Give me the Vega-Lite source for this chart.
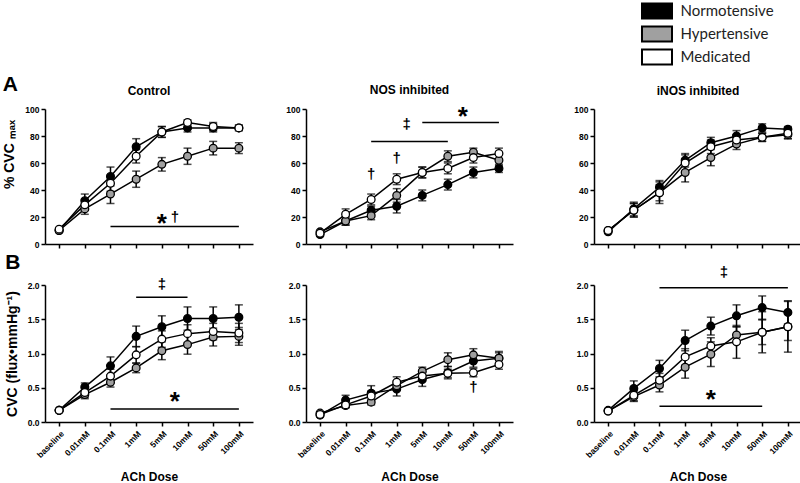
{
"$schema":"https://vega.github.io/schema/vega-lite/v6.json",
"padding":{"left":2,"top":2,"right":0,"bottom":0},
"background":"white",
"title":{"text":"A","anchor":"start","frame":"bounds","fontSize":21,"offset":-92},
"datasets":{
"means":[
{"c":"Control","m":"pct","g":"Normotensive","d":"baseline","v":10,"e":1},
{"c":"Control","m":"pct","g":"Normotensive","d":"0.01mM","v":32,"e":5},
{"c":"Control","m":"pct","g":"Normotensive","d":"0.1mM","v":50,"e":7},
{"c":"Control","m":"pct","g":"Normotensive","d":"1mM","v":72,"e":6},
{"c":"Control","m":"pct","g":"Normotensive","d":"5mM","v":83,"e":4},
{"c":"Control","m":"pct","g":"Normotensive","d":"10mM","v":86,"e":3},
{"c":"Control","m":"pct","g":"Normotensive","d":"50mM","v":86,"e":3},
{"c":"Control","m":"pct","g":"Normotensive","d":"100mM","v":86,"e":2},
{"c":"Control","m":"pct","g":"Hypertensive","d":"baseline","v":10,"e":1},
{"c":"Control","m":"pct","g":"Hypertensive","d":"0.01mM","v":26,"e":4},
{"c":"Control","m":"pct","g":"Hypertensive","d":"0.1mM","v":37,"e":7},
{"c":"Control","m":"pct","g":"Hypertensive","d":"1mM","v":48,"e":6},
{"c":"Control","m":"pct","g":"Hypertensive","d":"5mM","v":59,"e":5},
{"c":"Control","m":"pct","g":"Hypertensive","d":"10mM","v":65,"e":6},
{"c":"Control","m":"pct","g":"Hypertensive","d":"50mM","v":71,"e":5},
{"c":"Control","m":"pct","g":"Hypertensive","d":"100mM","v":71,"e":4},
{"c":"Control","m":"pct","g":"Medicated","d":"baseline","v":11,"e":1},
{"c":"Control","m":"pct","g":"Medicated","d":"0.01mM","v":29,"e":4},
{"c":"Control","m":"pct","g":"Medicated","d":"0.1mM","v":45,"e":6},
{"c":"Control","m":"pct","g":"Medicated","d":"1mM","v":65,"e":5},
{"c":"Control","m":"pct","g":"Medicated","d":"5mM","v":83,"e":4},
{"c":"Control","m":"pct","g":"Medicated","d":"10mM","v":90,"e":2},
{"c":"Control","m":"pct","g":"Medicated","d":"50mM","v":87,"e":3},
{"c":"Control","m":"pct","g":"Medicated","d":"100mM","v":86,"e":2},
{"c":"NOS inhibited","m":"pct","g":"Normotensive","d":"baseline","v":7,"e":1},
{"c":"NOS inhibited","m":"pct","g":"Normotensive","d":"0.01mM","v":17,"e":3},
{"c":"NOS inhibited","m":"pct","g":"Normotensive","d":"0.1mM","v":25,"e":3},
{"c":"NOS inhibited","m":"pct","g":"Normotensive","d":"1mM","v":28,"e":5},
{"c":"NOS inhibited","m":"pct","g":"Normotensive","d":"5mM","v":36,"e":4},
{"c":"NOS inhibited","m":"pct","g":"Normotensive","d":"10mM","v":44,"e":4},
{"c":"NOS inhibited","m":"pct","g":"Normotensive","d":"50mM","v":53,"e":4},
{"c":"NOS inhibited","m":"pct","g":"Normotensive","d":"100mM","v":56,"e":3},
{"c":"NOS inhibited","m":"pct","g":"Hypertensive","d":"baseline","v":9,"e":1},
{"c":"NOS inhibited","m":"pct","g":"Hypertensive","d":"0.01mM","v":17,"e":3},
{"c":"NOS inhibited","m":"pct","g":"Hypertensive","d":"0.1mM","v":21,"e":3},
{"c":"NOS inhibited","m":"pct","g":"Hypertensive","d":"1mM","v":36,"e":5},
{"c":"NOS inhibited","m":"pct","g":"Hypertensive","d":"5mM","v":53,"e":4},
{"c":"NOS inhibited","m":"pct","g":"Hypertensive","d":"10mM","v":65,"e":4},
{"c":"NOS inhibited","m":"pct","g":"Hypertensive","d":"50mM","v":68,"e":3},
{"c":"NOS inhibited","m":"pct","g":"Hypertensive","d":"100mM","v":62,"e":4},
{"c":"NOS inhibited","m":"pct","g":"Medicated","d":"baseline","v":8,"e":1},
{"c":"NOS inhibited","m":"pct","g":"Medicated","d":"0.01mM","v":22,"e":4},
{"c":"NOS inhibited","m":"pct","g":"Medicated","d":"0.1mM","v":33,"e":4},
{"c":"NOS inhibited","m":"pct","g":"Medicated","d":"1mM","v":48,"e":4},
{"c":"NOS inhibited","m":"pct","g":"Medicated","d":"5mM","v":53,"e":4},
{"c":"NOS inhibited","m":"pct","g":"Medicated","d":"10mM","v":56,"e":4},
{"c":"NOS inhibited","m":"pct","g":"Medicated","d":"50mM","v":64,"e":4},
{"c":"NOS inhibited","m":"pct","g":"Medicated","d":"100mM","v":67,"e":4},
{"c":"iNOS inhibited","m":"pct","g":"Normotensive","d":"baseline","v":9,"e":1},
{"c":"iNOS inhibited","m":"pct","g":"Normotensive","d":"0.01mM","v":26,"e":5},
{"c":"iNOS inhibited","m":"pct","g":"Normotensive","d":"0.1mM","v":42,"e":5},
{"c":"iNOS inhibited","m":"pct","g":"Normotensive","d":"1mM","v":62,"e":5},
{"c":"iNOS inhibited","m":"pct","g":"Normotensive","d":"5mM","v":75,"e":4},
{"c":"iNOS inhibited","m":"pct","g":"Normotensive","d":"10mM","v":80,"e":4},
{"c":"iNOS inhibited","m":"pct","g":"Normotensive","d":"50mM","v":86,"e":3},
{"c":"iNOS inhibited","m":"pct","g":"Normotensive","d":"100mM","v":85,"e":2},
{"c":"iNOS inhibited","m":"pct","g":"Hypertensive","d":"baseline","v":10,"e":1},
{"c":"iNOS inhibited","m":"pct","g":"Hypertensive","d":"0.01mM","v":25,"e":5},
{"c":"iNOS inhibited","m":"pct","g":"Hypertensive","d":"0.1mM","v":38,"e":6},
{"c":"iNOS inhibited","m":"pct","g":"Hypertensive","d":"1mM","v":53,"e":7},
{"c":"iNOS inhibited","m":"pct","g":"Hypertensive","d":"5mM","v":64,"e":6},
{"c":"iNOS inhibited","m":"pct","g":"Hypertensive","d":"10mM","v":74,"e":4},
{"c":"iNOS inhibited","m":"pct","g":"Hypertensive","d":"50mM","v":79,"e":3},
{"c":"iNOS inhibited","m":"pct","g":"Hypertensive","d":"100mM","v":81,"e":3},
{"c":"iNOS inhibited","m":"pct","g":"Medicated","d":"baseline","v":10,"e":1},
{"c":"iNOS inhibited","m":"pct","g":"Medicated","d":"0.01mM","v":25,"e":5},
{"c":"iNOS inhibited","m":"pct","g":"Medicated","d":"0.1mM","v":38,"e":8},
{"c":"iNOS inhibited","m":"pct","g":"Medicated","d":"1mM","v":60,"e":6},
{"c":"iNOS inhibited","m":"pct","g":"Medicated","d":"5mM","v":72,"e":5},
{"c":"iNOS inhibited","m":"pct","g":"Medicated","d":"10mM","v":77,"e":4},
{"c":"iNOS inhibited","m":"pct","g":"Medicated","d":"50mM","v":79,"e":3},
{"c":"iNOS inhibited","m":"pct","g":"Medicated","d":"100mM","v":82,"e":4},
{"c":"Control","m":"cvc","g":"Normotensive","d":"baseline","v":0.17,"e":0.02},
{"c":"Control","m":"cvc","g":"Normotensive","d":"0.01mM","v":0.51,"e":0.06},
{"c":"Control","m":"cvc","g":"Normotensive","d":"0.1mM","v":0.82,"e":0.13},
{"c":"Control","m":"cvc","g":"Normotensive","d":"1mM","v":1.25,"e":0.15},
{"c":"Control","m":"cvc","g":"Normotensive","d":"5mM","v":1.39,"e":0.16},
{"c":"Control","m":"cvc","g":"Normotensive","d":"10mM","v":1.51,"e":0.17},
{"c":"Control","m":"cvc","g":"Normotensive","d":"50mM","v":1.51,"e":0.17},
{"c":"Control","m":"cvc","g":"Normotensive","d":"100mM","v":1.53,"e":0.18},
{"c":"Control","m":"cvc","g":"Hypertensive","d":"baseline","v":0.17,"e":0.02},
{"c":"Control","m":"cvc","g":"Hypertensive","d":"0.01mM","v":0.40,"e":0.06},
{"c":"Control","m":"cvc","g":"Hypertensive","d":"0.1mM","v":0.58,"e":0.07},
{"c":"Control","m":"cvc","g":"Hypertensive","d":"1mM","v":0.79,"e":0.07},
{"c":"Control","m":"cvc","g":"Hypertensive","d":"5mM","v":1.04,"e":0.13},
{"c":"Control","m":"cvc","g":"Hypertensive","d":"10mM","v":1.13,"e":0.14},
{"c":"Control","m":"cvc","g":"Hypertensive","d":"50mM","v":1.24,"e":0.13},
{"c":"Control","m":"cvc","g":"Hypertensive","d":"100mM","v":1.25,"e":0.13},
{"c":"Control","m":"cvc","g":"Medicated","d":"baseline","v":0.17,"e":0.02},
{"c":"Control","m":"cvc","g":"Medicated","d":"0.01mM","v":0.43,"e":0.07},
{"c":"Control","m":"cvc","g":"Medicated","d":"0.1mM","v":0.67,"e":0.10},
{"c":"Control","m":"cvc","g":"Medicated","d":"1mM","v":0.98,"e":0.12},
{"c":"Control","m":"cvc","g":"Medicated","d":"5mM","v":1.21,"e":0.12},
{"c":"Control","m":"cvc","g":"Medicated","d":"10mM","v":1.29,"e":0.13},
{"c":"Control","m":"cvc","g":"Medicated","d":"50mM","v":1.32,"e":0.12},
{"c":"Control","m":"cvc","g":"Medicated","d":"100mM","v":1.30,"e":0.14},
{"c":"NOS inhibited","m":"cvc","g":"Normotensive","d":"baseline","v":0.10,"e":0.02},
{"c":"NOS inhibited","m":"cvc","g":"Normotensive","d":"0.01mM","v":0.32,"e":0.07},
{"c":"NOS inhibited","m":"cvc","g":"Normotensive","d":"0.1mM","v":0.42,"e":0.11},
{"c":"NOS inhibited","m":"cvc","g":"Normotensive","d":"1mM","v":0.48,"e":0.10},
{"c":"NOS inhibited","m":"cvc","g":"Normotensive","d":"5mM","v":0.62,"e":0.10},
{"c":"NOS inhibited","m":"cvc","g":"Normotensive","d":"10mM","v":0.72,"e":0.09},
{"c":"NOS inhibited","m":"cvc","g":"Normotensive","d":"50mM","v":0.89,"e":0.09},
{"c":"NOS inhibited","m":"cvc","g":"Normotensive","d":"100mM","v":0.93,"e":0.10},
{"c":"NOS inhibited","m":"cvc","g":"Hypertensive","d":"baseline","v":0.13,"e":0.02},
{"c":"NOS inhibited","m":"cvc","g":"Hypertensive","d":"0.01mM","v":0.24,"e":0.03},
{"c":"NOS inhibited","m":"cvc","g":"Hypertensive","d":"0.1mM","v":0.29,"e":0.04},
{"c":"NOS inhibited","m":"cvc","g":"Hypertensive","d":"1mM","v":0.53,"e":0.07},
{"c":"NOS inhibited","m":"cvc","g":"Hypertensive","d":"5mM","v":0.74,"e":0.06},
{"c":"NOS inhibited","m":"cvc","g":"Hypertensive","d":"10mM","v":0.91,"e":0.10},
{"c":"NOS inhibited","m":"cvc","g":"Hypertensive","d":"50mM","v":0.98,"e":0.09},
{"c":"NOS inhibited","m":"cvc","g":"Hypertensive","d":"100mM","v":0.93,"e":0.08},
{"c":"NOS inhibited","m":"cvc","g":"Medicated","d":"baseline","v":0.11,"e":0.02},
{"c":"NOS inhibited","m":"cvc","g":"Medicated","d":"0.01mM","v":0.25,"e":0.04},
{"c":"NOS inhibited","m":"cvc","g":"Medicated","d":"0.1mM","v":0.38,"e":0.07},
{"c":"NOS inhibited","m":"cvc","g":"Medicated","d":"1mM","v":0.58,"e":0.08},
{"c":"NOS inhibited","m":"cvc","g":"Medicated","d":"5mM","v":0.67,"e":0.07},
{"c":"NOS inhibited","m":"cvc","g":"Medicated","d":"10mM","v":0.71,"e":0.06},
{"c":"NOS inhibited","m":"cvc","g":"Medicated","d":"50mM","v":0.72,"e":0.06},
{"c":"NOS inhibited","m":"cvc","g":"Medicated","d":"100mM","v":0.84,"e":0.07},
{"c":"iNOS inhibited","m":"cvc","g":"Normotensive","d":"baseline","v":0.17,"e":0.02},
{"c":"iNOS inhibited","m":"cvc","g":"Normotensive","d":"0.01mM","v":0.49,"e":0.11},
{"c":"iNOS inhibited","m":"cvc","g":"Normotensive","d":"0.1mM","v":0.78,"e":0.12},
{"c":"iNOS inhibited","m":"cvc","g":"Normotensive","d":"1mM","v":1.19,"e":0.15},
{"c":"iNOS inhibited","m":"cvc","g":"Normotensive","d":"5mM","v":1.40,"e":0.13},
{"c":"iNOS inhibited","m":"cvc","g":"Normotensive","d":"10mM","v":1.55,"e":0.16},
{"c":"iNOS inhibited","m":"cvc","g":"Normotensive","d":"50mM","v":1.67,"e":0.17},
{"c":"iNOS inhibited","m":"cvc","g":"Normotensive","d":"100mM","v":1.60,"e":0.17},
{"c":"iNOS inhibited","m":"cvc","g":"Hypertensive","d":"baseline","v":0.16,"e":0.02},
{"c":"iNOS inhibited","m":"cvc","g":"Hypertensive","d":"0.01mM","v":0.37,"e":0.07},
{"c":"iNOS inhibited","m":"cvc","g":"Hypertensive","d":"0.1mM","v":0.54,"e":0.10},
{"c":"iNOS inhibited","m":"cvc","g":"Hypertensive","d":"1mM","v":0.80,"e":0.16},
{"c":"iNOS inhibited","m":"cvc","g":"Hypertensive","d":"5mM","v":0.99,"e":0.18},
{"c":"iNOS inhibited","m":"cvc","g":"Hypertensive","d":"10mM","v":1.27,"e":0.12},
{"c":"iNOS inhibited","m":"cvc","g":"Hypertensive","d":"50mM","v":1.31,"e":0.30},
{"c":"iNOS inhibited","m":"cvc","g":"Hypertensive","d":"100mM","v":1.39,"e":0.37},
{"c":"iNOS inhibited","m":"cvc","g":"Medicated","d":"baseline","v":0.16,"e":0.02},
{"c":"iNOS inhibited","m":"cvc","g":"Medicated","d":"0.01mM","v":0.39,"e":0.08},
{"c":"iNOS inhibited","m":"cvc","g":"Medicated","d":"0.1mM","v":0.61,"e":0.10},
{"c":"iNOS inhibited","m":"cvc","g":"Medicated","d":"1mM","v":0.95,"e":0.12},
{"c":"iNOS inhibited","m":"cvc","g":"Medicated","d":"5mM","v":1.11,"e":0.12},
{"c":"iNOS inhibited","m":"cvc","g":"Medicated","d":"10mM","v":1.17,"e":0.24},
{"c":"iNOS inhibited","m":"cvc","g":"Medicated","d":"50mM","v":1.31,"e":0.18},
{"c":"iNOS inhibited","m":"cvc","g":"Medicated","d":"100mM","v":1.39,"e":0.20}
],
"bars":[
{"c":"Control","m":"pct","from":"0.1mM","to":"100mM","v":13},
{"c":"NOS inhibited","m":"pct","from":"0.1mM","to":"10mM","v":76},
{"c":"NOS inhibited","m":"pct","from":"5mM","to":"100mM","v":90},
{"c":"Control","m":"cvc","from":"1mM","to":"10mM","v":1.82},
{"c":"Control","m":"cvc","from":"0.1mM","to":"100mM","v":0.19},
{"c":"iNOS inhibited","m":"cvc","from":"0.1mM","to":"100mM","v":1.96},
{"c":"iNOS inhibited","m":"cvc","from":"0.1mM","to":"50mM","v":0.23}
],
"signs":[
{"c":"Control","m":"pct","d":"5mM","v":20,"s":"*"},
{"c":"Control","m":"pct","d":"5mM","d2":"10mM","v":20,"s":"†"},
{"c":"NOS inhibited","m":"pct","d":"0.1mM","v":51.5,"s":"†"},
{"c":"NOS inhibited","m":"pct","d":"1mM","v":63.5,"s":"†"},
{"c":"NOS inhibited","m":"pct","d":"1mM","d2":"5mM","v":89,"s":"‡"},
{"c":"NOS inhibited","m":"pct","d":"10mM","d2":"50mM","v":99,"s":"*"},
{"c":"Control","m":"cvc","d":"5mM","v":2.02,"s":"‡"},
{"c":"Control","m":"cvc","d":"5mM","d2":"10mM","v":0.39,"s":"*"},
{"c":"NOS inhibited","m":"cvc","d":"50mM","v":0.51,"s":"†"},
{"c":"iNOS inhibited","m":"cvc","d":"5mM","v":0.42,"s":"*"},
{"c":"iNOS inhibited","m":"cvc","d":"5mM","d2":"10mM","v":2.19,"s":"‡"}
]
},
"hconcat":[
{"hconcat":[
{"vconcat":[
{"width":208,"height":135,"title":"Control",
"encoding":{
"x":{"field":"d","type":"ordinal","scale":{"type":"point","domain":["baseline","0.01mM","0.1mM","1mM","5mM","10mM","50mM","100mM"],"padding":0.55},"axis":{"labels":false,"title":null}},
"y":{"field":"v","type":"quantitative","scale":{"domain":[0,100],"nice":false},"axis":{"values":[0,20,40,60,80,100],"title":"% CVC ₘₐₓ","titleY":45}}},
"layer":[
{"data":{"name":"means"},"transform":[{"filter":"datum.c=='Control' && datum.m=='pct'"}],"mark":{"type":"errorbar","ticks":{"size":8,"thickness":1.5},"rule":{"strokeWidth":1.5},"color":"#000"},"encoding":{"yError":{"field":"e"}}},
{"data":{"name":"means"},"transform":[{"filter":"datum.c=='Control' && datum.m=='pct'"}],"mark":{"type":"line","color":"#000","strokeWidth":1.5},"encoding":{"detail":{"field":"g"}}},
{"data":{"name":"means"},"transform":[{"filter":"datum.c=='Control' && datum.m=='pct'"}],"mark":{"type":"circle","size":60,"stroke":"#000","strokeWidth":1.3,"opacity":1},"encoding":{"fill":{"field":"g","type":"nominal","title":null,"scale":{"domain":["Normotensive","Hypertensive","Medicated"],"range":["#000000","#a0a0a0","#ffffff"]},"legend":{"orient":"none","legendX":603.5,"legendY":-106.5}}}},
{"data":{"name":"bars"},"transform":[{"filter":"datum.c=='Control' && datum.m=='pct'"}],"mark":{"type":"rule","strokeWidth":1.5,"color":"#000"},"encoding":{"x":{"field":"from","type":"ordinal","scale":{"type":"point","domain":["baseline","0.01mM","0.1mM","1mM","5mM","10mM","50mM","100mM"],"padding":0.55},"axis":{"labels":false,"title":null}},"x2":{"field":"to"}}},
{"data":{"name":"signs"},"transform":[{"filter":"datum.c=='Control' && datum.m=='pct' && datum.s=='*' && !datum.d2"}],"mark":{"type":"text","fontSize":26,"fontWeight":"bold","baseline":"middle","dy":7,"fill":"#000"},"encoding":{"text":{"field":"s"}}},
{"data":{"name":"signs"},"transform":[{"filter":"datum.c=='Control' && datum.m=='pct' && datum.s!='*' && datum.d2"}],"mark":{"type":"text","fontSize":15,"fontWeight":"bold","baseline":"middle","dx":13,"fill":"#000"},"encoding":{"text":{"field":"s"}}}
]},
{"width":208,"height":137,"title":{"text":"B","anchor":"start","frame":"bounds","fontSize":21,"offset":4},
"encoding":{
"x":{"field":"d","type":"ordinal","scale":{"type":"point","domain":["baseline","0.01mM","0.1mM","1mM","5mM","10mM","50mM","100mM"],"padding":0.55},"axis":{"labelAngle":-45,"title":"ACh Dose"}},
"y":{"field":"v","type":"quantitative","scale":{"domain":[0,2],"nice":false},"axis":{"values":[0,0.5,1,1.5,2],"format":".1f","title":"CVC (flux•mmHg⁻¹)"}}},
"layer":[
{"data":{"name":"means"},"transform":[{"filter":"datum.c=='Control' && datum.m=='cvc'"}],"mark":{"type":"errorbar","ticks":{"size":8,"thickness":1.5},"rule":{"strokeWidth":1.5},"color":"#000"},"encoding":{"yError":{"field":"e"}}},
{"data":{"name":"means"},"transform":[{"filter":"datum.c=='Control' && datum.m=='cvc'"}],"mark":{"type":"line","color":"#000","strokeWidth":1.5},"encoding":{"detail":{"field":"g"}}},
{"data":{"name":"means"},"transform":[{"filter":"datum.c=='Control' && datum.m=='cvc'"}],"mark":{"type":"circle","size":60,"stroke":"#000","strokeWidth":1.3,"opacity":1},"encoding":{"fill":{"field":"g","type":"nominal","title":null,"scale":{"domain":["Normotensive","Hypertensive","Medicated"],"range":["#000000","#a0a0a0","#ffffff"]},"legend":{"orient":"none","legendX":603.5,"legendY":-106.5}}}},
{"data":{"name":"bars"},"transform":[{"filter":"datum.c=='Control' && datum.m=='cvc'"}],"mark":{"type":"rule","strokeWidth":1.5,"color":"#000"},"encoding":{"x":{"field":"from","type":"ordinal","scale":{"type":"point","domain":["baseline","0.01mM","0.1mM","1mM","5mM","10mM","50mM","100mM"],"padding":0.55},"axis":{"labelAngle":-45,"title":"ACh Dose"}},"x2":{"field":"to"}}},
{"data":{"name":"signs"},"transform":[{"filter":"datum.c=='Control' && datum.m=='cvc' && datum.s!='*' && !datum.d2"}],"mark":{"type":"text","fontSize":15,"fontWeight":"bold","baseline":"middle","fill":"#000"},"encoding":{"text":{"field":"s"}}},
{"data":{"name":"signs"},"transform":[{"filter":"datum.c=='Control' && datum.m=='cvc' && datum.s=='*' && datum.d2"}],"mark":{"type":"text","fontSize":26,"fontWeight":"bold","baseline":"middle","dy":7,"dx":13,"fill":"#000"},"encoding":{"text":{"field":"s"}}}
]}
],"spacing":41,"bounds":"flush"},
{"vconcat":[
{"width":207,"height":135,"title":"NOS inhibited",
"encoding":{
"x":{"field":"d","type":"ordinal","scale":{"type":"point","domain":["baseline","0.01mM","0.1mM","1mM","5mM","10mM","50mM","100mM"],"padding":0.55},"axis":{"labels":false,"title":null}},
"y":{"field":"v","type":"quantitative","scale":{"domain":[0,100],"nice":false},"axis":{"values":[0,20,40,60,80,100],"title":null}}},
"layer":[
{"data":{"name":"means"},"transform":[{"filter":"datum.c=='NOS inhibited' && datum.m=='pct'"}],"mark":{"type":"errorbar","ticks":{"size":8,"thickness":1.5},"rule":{"strokeWidth":1.5},"color":"#000"},"encoding":{"yError":{"field":"e"}}},
{"data":{"name":"means"},"transform":[{"filter":"datum.c=='NOS inhibited' && datum.m=='pct'"}],"mark":{"type":"line","color":"#000","strokeWidth":1.5},"encoding":{"detail":{"field":"g"}}},
{"data":{"name":"means"},"transform":[{"filter":"datum.c=='NOS inhibited' && datum.m=='pct'"}],"mark":{"type":"circle","size":60,"stroke":"#000","strokeWidth":1.3,"opacity":1},"encoding":{"fill":{"field":"g","type":"nominal","title":null,"scale":{"domain":["Normotensive","Hypertensive","Medicated"],"range":["#000000","#a0a0a0","#ffffff"]},"legend":{"orient":"none","legendX":603.5,"legendY":-106.5}}}},
{"data":{"name":"bars"},"transform":[{"filter":"datum.c=='NOS inhibited' && datum.m=='pct'"}],"mark":{"type":"rule","strokeWidth":1.5,"color":"#000"},"encoding":{"x":{"field":"from","type":"ordinal","scale":{"type":"point","domain":["baseline","0.01mM","0.1mM","1mM","5mM","10mM","50mM","100mM"],"padding":0.55},"axis":{"labels":false,"title":null}},"x2":{"field":"to"}}},
{"data":{"name":"signs"},"transform":[{"filter":"datum.c=='NOS inhibited' && datum.m=='pct' && datum.s!='*' && !datum.d2"}],"mark":{"type":"text","fontSize":15,"fontWeight":"bold","baseline":"middle","fill":"#000"},"encoding":{"text":{"field":"s"}}},
{"data":{"name":"signs"},"transform":[{"filter":"datum.c=='NOS inhibited' && datum.m=='pct' && datum.s!='*' && datum.d2"}],"mark":{"type":"text","fontSize":15,"fontWeight":"bold","baseline":"middle","dx":10,"fill":"#000"},"encoding":{"text":{"field":"s"}}},
{"data":{"name":"signs"},"transform":[{"filter":"datum.c=='NOS inhibited' && datum.m=='pct' && datum.s=='*' && datum.d2"}],"mark":{"type":"text","fontSize":26,"fontWeight":"bold","baseline":"middle","dy":7,"dx":15,"fill":"#000"},"encoding":{"text":{"field":"s"}}}
]},
{"width":207,"height":137,
"encoding":{
"x":{"field":"d","type":"ordinal","scale":{"type":"point","domain":["baseline","0.01mM","0.1mM","1mM","5mM","10mM","50mM","100mM"],"padding":0.55},"axis":{"labelAngle":-45,"title":"ACh Dose"}},
"y":{"field":"v","type":"quantitative","scale":{"domain":[0,2],"nice":false},"axis":{"values":[0,0.5,1,1.5,2],"format":".1f","title":null}}},
"layer":[
{"data":{"name":"means"},"transform":[{"filter":"datum.c=='NOS inhibited' && datum.m=='cvc'"}],"mark":{"type":"errorbar","ticks":{"size":8,"thickness":1.5},"rule":{"strokeWidth":1.5},"color":"#000"},"encoding":{"yError":{"field":"e"}}},
{"data":{"name":"means"},"transform":[{"filter":"datum.c=='NOS inhibited' && datum.m=='cvc'"}],"mark":{"type":"line","color":"#000","strokeWidth":1.5},"encoding":{"detail":{"field":"g"}}},
{"data":{"name":"means"},"transform":[{"filter":"datum.c=='NOS inhibited' && datum.m=='cvc'"}],"mark":{"type":"circle","size":60,"stroke":"#000","strokeWidth":1.3,"opacity":1},"encoding":{"fill":{"field":"g","type":"nominal","title":null,"scale":{"domain":["Normotensive","Hypertensive","Medicated"],"range":["#000000","#a0a0a0","#ffffff"]},"legend":{"orient":"none","legendX":603.5,"legendY":-106.5}}}},
{"data":{"name":"signs"},"transform":[{"filter":"datum.c=='NOS inhibited' && datum.m=='cvc' && datum.s!='*' && !datum.d2"}],"mark":{"type":"text","fontSize":15,"fontWeight":"bold","baseline":"middle","fill":"#000"},"encoding":{"text":{"field":"s"}}}
]}
],"spacing":41,"bounds":"flush"}
],"spacing":32},
{"vconcat":[
{"width":208,"height":135,"title":"iNOS inhibited",
"encoding":{
"x":{"field":"d","type":"ordinal","scale":{"type":"point","domain":["baseline","0.01mM","0.1mM","1mM","5mM","10mM","50mM","100mM"],"padding":0.55},"axis":{"labels":false,"title":null}},
"y":{"field":"v","type":"quantitative","scale":{"domain":[0,100],"nice":false},"axis":{"values":[0,20,40,60,80,100],"title":null}}},
"layer":[
{"data":{"name":"means"},"transform":[{"filter":"datum.c=='iNOS inhibited' && datum.m=='pct'"}],"mark":{"type":"errorbar","ticks":{"size":8,"thickness":1.5},"rule":{"strokeWidth":1.5},"color":"#000"},"encoding":{"yError":{"field":"e"}}},
{"data":{"name":"means"},"transform":[{"filter":"datum.c=='iNOS inhibited' && datum.m=='pct'"}],"mark":{"type":"line","color":"#000","strokeWidth":1.5},"encoding":{"detail":{"field":"g"}}},
{"data":{"name":"means"},"transform":[{"filter":"datum.c=='iNOS inhibited' && datum.m=='pct'"}],"mark":{"type":"circle","size":60,"stroke":"#000","strokeWidth":1.3,"opacity":1},"encoding":{"fill":{"field":"g","type":"nominal","title":null,"scale":{"domain":["Normotensive","Hypertensive","Medicated"],"range":["#000000","#a0a0a0","#ffffff"]},"legend":{"orient":"none","legendX":603.5,"legendY":-106.5}}}}
]},
{"width":208,"height":137,
"encoding":{
"x":{"field":"d","type":"ordinal","scale":{"type":"point","domain":["baseline","0.01mM","0.1mM","1mM","5mM","10mM","50mM","100mM"],"padding":0.55},"axis":{"labelAngle":-45,"title":"ACh Dose"}},
"y":{"field":"v","type":"quantitative","scale":{"domain":[0,2],"nice":false},"axis":{"values":[0,0.5,1,1.5,2],"format":".1f","title":null}}},
"layer":[
{"data":{"name":"means"},"transform":[{"filter":"datum.c=='iNOS inhibited' && datum.m=='cvc'"}],"mark":{"type":"errorbar","ticks":{"size":8,"thickness":1.5},"rule":{"strokeWidth":1.5},"color":"#000"},"encoding":{"yError":{"field":"e"}}},
{"data":{"name":"means"},"transform":[{"filter":"datum.c=='iNOS inhibited' && datum.m=='cvc'"}],"mark":{"type":"line","color":"#000","strokeWidth":1.5},"encoding":{"detail":{"field":"g"}}},
{"data":{"name":"means"},"transform":[{"filter":"datum.c=='iNOS inhibited' && datum.m=='cvc'"}],"mark":{"type":"circle","size":60,"stroke":"#000","strokeWidth":1.3,"opacity":1},"encoding":{"fill":{"field":"g","type":"nominal","title":null,"scale":{"domain":["Normotensive","Hypertensive","Medicated"],"range":["#000000","#a0a0a0","#ffffff"]},"legend":{"orient":"none","legendX":603.5,"legendY":-106.5}}}},
{"data":{"name":"bars"},"transform":[{"filter":"datum.c=='iNOS inhibited' && datum.m=='cvc'"}],"mark":{"type":"rule","strokeWidth":1.5,"color":"#000"},"encoding":{"x":{"field":"from","type":"ordinal","scale":{"type":"point","domain":["baseline","0.01mM","0.1mM","1mM","5mM","10mM","50mM","100mM"],"padding":0.55},"axis":{"labelAngle":-45,"title":"ACh Dose"}},"x2":{"field":"to"}}},
{"data":{"name":"signs"},"transform":[{"filter":"datum.c=='iNOS inhibited' && datum.m=='cvc' && datum.s=='*' && !datum.d2"}],"mark":{"type":"text","fontSize":26,"fontWeight":"bold","baseline":"middle","dy":7,"fill":"#000"},"encoding":{"text":{"field":"s"}}},
{"data":{"name":"signs"},"transform":[{"filter":"datum.c=='iNOS inhibited' && datum.m=='cvc' && datum.s!='*' && datum.d2"}],"mark":{"type":"text","fontSize":15,"fontWeight":"bold","baseline":"middle","dx":13,"fill":"#000"},"encoding":{"text":{"field":"s"}}}
]}
],"spacing":41,"bounds":"flush"}
],
"spacing":60,
"config":{
"font":"Liberation Sans",
"view":{"stroke":null},
"axis":{"domainColor":"#000","domainWidth":1.5,"tickColor":"#000","tickWidth":1.5,"tickSize":4,"labelFont":"Liberation Sans","labelFontWeight":"bold","labelFontSize":8.5,"labelColor":"#000","labelPadding":2,"titleFont":"Liberation Sans","titleFontWeight":"bold","titleColor":"#000","grid":false},
"axisY":{"titleFontSize":14,"titlePadding":8},
"axisX":{"titleFontSize":12,"titlePadding":12,"labelPadding":3},
"title":{"font":"Liberation Sans","fontWeight":"bold","fontSize":12,"color":"#000","offset":7},
"text":{"font":"Liberation Sans","color":"#000"},
"legend":{"symbolType":"M-2,-1H2V1H-2Z","symbolSize":225,"symbolStrokeColor":"#000","symbolStrokeWidth":2,"labelFont":"Lato","labelFontSize":15,"labelColor":"#222","labelOffset":15,"rowPadding":0,"padding":0}
}
}
